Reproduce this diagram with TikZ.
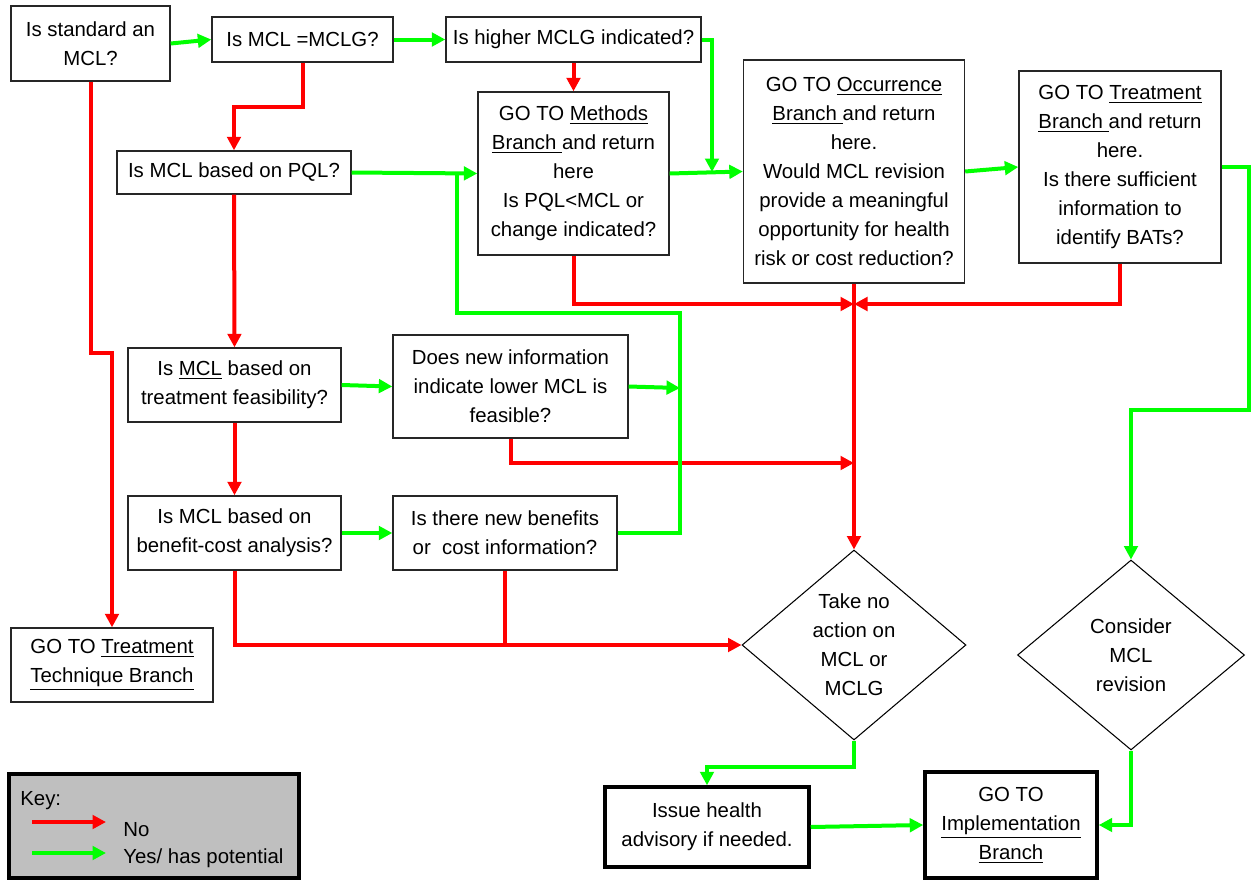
\documentclass[tikz,border=0pt]{standalone}
\usepackage{fontspec}
\setmainfont{Liberation Sans}
\usetikzlibrary{arrows.meta,shapes.geometric}
\definecolor{nored}{RGB}{255,0,0}
\definecolor{yesgreen}{RGB}{0,255,0}

\begin{document}
\begin{tikzpicture}[x=0.02cm,y=-0.02cm,
  every node/.style={font=\fontsize{11.6}{16.5}\selectfont,align=center,inner sep=0pt},
  box/.style={draw=black!85,line width=0.8pt},
  bigbox/.style={draw=black,line width=2pt},
  choice/.style={diamond,draw=black,line width=0.6pt,aspect=1.2},
  noline/.style={draw=nored,line width=0.08cm,-{Triangle[length=0.27cm,width=0.27cm]}},
  yesline/.style={draw=yesgreen,line width=0.08cm,-{Triangle[length=0.27cm,width=0.27cm]}}]
  \useasboundingbox (0,0) rectangle (1252,880);

  \node[box,minimum width=3.18cm,minimum height=1.5cm] (std) at (90.5,43.5) {Is standard an\\MCL?};
  \node[box,minimum width=3.62cm,minimum height=0.9cm] (mclg) at (302.5,39.5) {Is MCL =MCLG?};
  \node[box,minimum width=5.1cm,minimum height=0.9cm] (higher) at (573.5,39.5) {Is higher MCLG indicated?};
  \node[box,minimum width=4.68cm,minimum height=0.86cm] (pql) at (234,172.5) {Is MCL based on PQL?};
  \node[box,minimum width=3.82cm,minimum height=3.26cm] (methods) at (573.5,173.5)
    {GO TO \underline{Methods}\\\underline{Branch }and return\\here\\Is PQL<MCL or\\change indicated?};
  \node[box,minimum width=4.42cm,minimum height=4.46cm] (occur) at (854,171.5)
    {GO TO \underline{Occurrence}\\\underline{Branch }and return\\here.\\Would MCL revision\\provide a meaningful\\opportunity for health\\risk or cost reduction?};
  \node[box,minimum width=4.04cm,minimum height=3.84cm] (treat) at (1120,167)
    {GO TO \underline{Treatment}\\\underline{Branch }and return\\here.\\Is there sufficient\\information to\\identify BATs?};
  \node[box,minimum width=4.26cm,minimum height=1.48cm] (feas) at (234.5,385) {Is \underline{MCL} based on\\treatment feasibility?};
  \node[box,minimum width=4.7cm,minimum height=2.06cm] (newinfo) at (510.5,386.5) {Does new information\\indicate lower MCL is\\feasible?};
  \node[box,minimum width=4.26cm,minimum height=1.48cm] (bc) at (234.5,533) {Is MCL based on\\benefit-cost analysis?};
  \node[box,minimum width=4.48cm,minimum height=1.48cm] (newben) at (505,533) {Is there new benefits\\or \ cost information?};
  \node[box,minimum width=4.04cm,minimum height=1.48cm] (ttb) at (112,665) {GO TO \underline{Treatment}\\\underline{Technique Branch}};
  \node[choice,minimum width=4.48cm,minimum height=3.8cm] (noaction) at (854,645) {Take no\\action on\\MCL or\\MCLG};
  \node[choice,minimum width=4.54cm,minimum height=3.8cm] (consider) at (1131,655) {Consider\\MCL\\revision};
  \node[bigbox,minimum width=4.08cm,minimum height=1.6cm] (advisory) at (707,827) {Issue health\\advisory if needed.};
  \node[bigbox,minimum width=3.44cm,minimum height=2.12cm] (impl) at (1011,825) {GO TO\\\underline{Implementation}\\\underline{Branch}};

  \draw[noline] (std.south) |- (112,353) -- (ttb.north);
  \draw[noline] (mclg.south) -- ++(0,44) -| (pql.north);
  \draw[noline] (higher.south) -- (methods.north);
  \draw[noline] (pql.south) -- (feas.north);
  \draw[noline] (feas.south) -- (bc.north);
  \coordinate (redjoin) at (854,304);
  \coordinate (redjoin2) at (854,463);
  \draw[noline] (methods.south) |- (redjoin);
  \draw[noline] (treat.south) |- (redjoin);
  \draw[noline] (occur.south) -- (noaction.north);
  \draw[noline] (newinfo.south) |- (redjoin2);
  \draw[noline] (bc.south) |- (noaction.west);
  \draw[noline,-] (newben.south) -- (newben.south |- noaction.west);

  \draw[yesline] (std.east) -- (mclg.west);
  \draw[yesline] (mclg.east) -- (higher.west);
  \coordinate (greenjoin) at (712,172);
  \draw[yesline] (higher.east) -| (greenjoin);
  \draw[yesline] (pql.east) -- (methods.west);
  \draw[yesline] (methods.east) -- (occur.west);
  \draw[yesline] (occur.east) -- (treat.west);
  \draw[yesline] (treat.east) -| (1249,410) -| (consider.north);
  \draw[yesline] (feas.east) -- (newinfo.west);
  \coordinate (greenside) at (680,388);
  \draw[yesline] (newinfo.east) -- (greenside);
  \draw[yesline] (bc.east) -- (newben.west);
  \coordinate (greenpql) at (457,173);
  \draw[yesline,-] (newben.east) -| (680,313) -| (greenpql);
  \draw[yesline] (noaction.south) -- ++(0,26) -| (advisory.north);
  \draw[yesline] (advisory.east) -- (impl.west);
  \draw[yesline] (consider.south) |- (impl.east);

  \node[draw=black,line width=0.08cm,fill=black!25,minimum width=5.8cm,minimum height=2.08cm] (key) at (154,826) {};
  \node[anchor=west] (keytitle) at (20,801) {Key:};
  \node[anchor=west] (keyno) at (123,830) {No};
  \node[anchor=west] (keyyes) at (123,858) {Yes/ has potential};
  \coordinate (keyred1) at (32,822);
  \coordinate (keyred2) at (106,822);
  \coordinate (keygreen1) at (32,853);
  \coordinate (keygreen2) at (106,853);
  \draw[noline] (keyred1) -- (keyred2);
  \draw[yesline] (keygreen1) -- (keygreen2);
\end{tikzpicture}
\end{document}
